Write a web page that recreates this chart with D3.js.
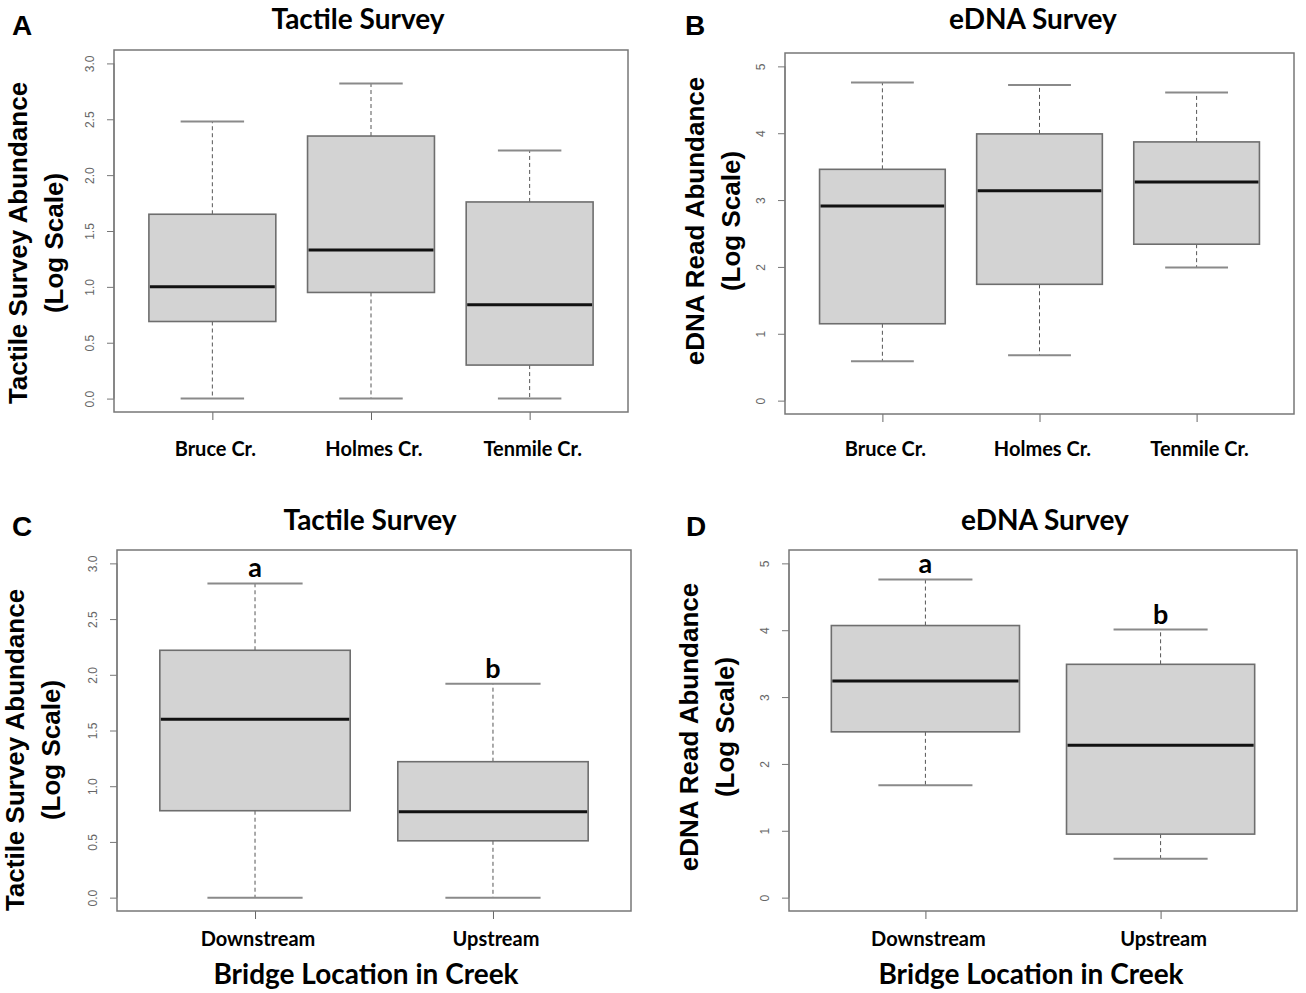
<!DOCTYPE html>
<html>
<head>
<meta charset="utf-8">
<script src="https://cdn.jsdelivr.net/npm/d3@7"></script>
<style>
  body { margin: 0; background: #fff; }
  svg { display: block; }
</style>
</head>
<body>
<div id="chart"></div>
<script>

// groups
var creeks = ['Bruce Cr.', 'Holmes Cr.', 'Tenmile Cr.'];
var locations = ['Downstream', 'Upstream'];

// five number summaries: [min, q1, median, q3, max]
var tactile_creek = [
	[0.00, 0.69, 1.00, 1.65, 2.48],
	[0.00, 0.95, 1.33, 2.35, 2.82],
	[0.00, 0.30, 0.84, 1.76, 2.22]
];
var edna_creek = [
	[0.59, 1.15, 2.91, 3.46, 4.76],
	[0.68, 1.74, 3.14, 3.99, 4.72],
	[1.99, 2.34, 3.27, 3.87, 4.61]
];
var tactile_location = [
	[0.00, 0.78, 1.60, 2.22, 2.82],
	[0.00, 0.51, 0.77, 1.22, 1.92]
];
var edna_location = [
	[1.68, 2.48, 3.24, 4.07, 4.76],
	[0.58, 0.95, 2.28, 3.49, 4.01]
];
var location_letters = ['a', 'b'];

// tick labels
var tactile_ticks = [0, 0.5, 1.0, 1.5, 2.0, 2.5, 3.0];
var edna_ticks = [0, 1, 2, 3, 4, 5];

var svg = d3.select('#chart').append('svg')
	.attr('width', 1306)
	.attr('height', 993);

// panel frames (layout only)
var panels = [
	{id: 'A', title: 'Tactile Survey', stats: tactile_creek, groups: creeks, ticks: tactile_ticks, fmt: d3.format('.1f'),
	 ylim: [0, 3], ylab: 'Tactile Survey Abundance', x0: 114, x1: 628, y0: 50, y1: 412, grpY: 44,
	 letterX: 12, titleX: 358, titleY: 29, labX: 27, labY: 243},
	{id: 'B', title: 'eDNA Survey', stats: edna_creek, groups: creeks, ticks: edna_ticks, fmt: d3.format('d'),
	 ylim: [0, 5], ylab: 'eDNA Read Abundance', x0: 785, x1: 1294, y0: 53, y1: 414, grpY: 42,
	 letterX: 685, titleX: 1033, titleY: 29, labX: 704, labY: 221},
	{id: 'C', title: 'Tactile Survey', stats: tactile_location, groups: locations, ticks: tactile_ticks, fmt: d3.format('.1f'),
	 ylim: [0, 3], ylab: 'Tactile Survey Abundance', x0: 117, x1: 631, y0: 550, y1: 911, grpY: 35,
	 letterX: 12, titleX: 370, titleY: 530, labX: 24, labY: 750, letters: location_letters, xtitle: 'Bridge Location in Creek', xtitleX: 366},
	{id: 'D', title: 'eDNA Survey', stats: edna_location, groups: locations, ticks: edna_ticks, fmt: d3.format('d'),
	 ylim: [0, 5], ylab: 'eDNA Read Abundance', x0: 789, x1: 1297, y0: 550, y1: 911, grpY: 35,
	 letterX: 686, titleX: 1045, titleY: 530, labX: 698, labY: 727, letters: location_letters, xtitle: 'Bridge Location in Creek', xtitleX: 1031}
];

var calibri = 'Lato, "Open Sans", sans-serif';
var arial = '"Liberation Sans", Arial, sans-serif';

function draw_panel(p) {
	var n = p.groups.length;
	// R style 4% padding
	var x = d3.scaleLinear()
		.domain([0.5 - 0.04 * n, n + 0.5 + 0.04 * n])
		.range([p.x0, p.x1]);
	var r = p.ylim[1] - p.ylim[0];
	var y = d3.scaleLinear()
		.domain([p.ylim[0] - 0.04 * r, p.ylim[1] + 0.04 * r])
		.range([p.y1, p.y0]);

	var g = svg.append('g').attr('class', 'panel');

	// panel letter + title
	g.append('text')
		.attr('x', p.letterX).attr('y', p.titleY + 6)
		.attr('font-family', arial).attr('font-weight', 'bold').attr('font-size', 28)
		.text(p.id);
	g.append('text')
		.attr('x', p.titleX).attr('y', p.titleY)
		.attr('text-anchor', 'middle')
		.attr('font-family', calibri).attr('font-weight', 'bold').attr('font-size', 28)
		.text(p.title);

	// y axis (R puts rotated labels along the axis)
	var yAxis = d3.axisLeft(y)
		.tickValues(p.ticks)
		.tickFormat(p.fmt)
		.tickSizeOuter(0)
		.tickSizeInner(7)
		.tickPadding(6);
	var ya = g.append('g')
		.attr('transform', 'translate(' + p.x0 + ',0)')
		.call(yAxis);
	ya.select('.domain')
		.attr('d', 'M0,' + y(p.ticks[0]) + 'V' + y(p.ticks[p.ticks.length - 1]))
		.attr('stroke', '#777');
	ya.selectAll('.tick line').attr('stroke', '#777');
	ya.selectAll('.tick text')
		.attr('x', null).attr('dy', null)
		.attr('text-anchor', 'middle')
		.attr('transform', 'translate(-20,0) rotate(-90)')
		.attr('font-family', arial).attr('font-size', 12)
		.attr('fill', '#666');

	// x ticks
	var xa = g.append('g')
		.attr('transform', 'translate(0,' + p.y1 + ')')
		.call(d3.axisBottom(x).tickValues(d3.range(1, n + 1)).tickFormat('').tickSizeOuter(0).tickSizeInner(8));
	xa.select('.domain').remove();
	xa.selectAll('.tick line').attr('stroke', '#666');

	// group labels
	g.selectAll('.grp')
		.data(p.groups)
		.enter().append('text')
		.attr('class', 'grp')
		.attr('x', function(d, i) { return x(i + 1) + 3; })
		.attr('y', p.y1 + p.grpY)
		.attr('text-anchor', 'middle')
		.attr('font-family', calibri).attr('font-weight', 'bold').attr('font-size', 20)
		.text(function(d) { return d; });

	// boxes
	var bw = x(1.4) - x(1);
	var cw = x(1.2) - x(1);
	var box = g.selectAll('.box')
		.data(p.stats)
		.enter().append('g')
		.attr('class', 'box');

	// whiskers
	box.append('line')
		.attr('x1', function(d, i) { return x(i + 1); })
		.attr('x2', function(d, i) { return x(i + 1); })
		.attr('y1', function(d) { return y(d[3]); })
		.attr('y2', function(d) { return y(d[4]); })
		.attr('stroke', '#555').attr('stroke-width', 1).attr('stroke-dasharray', '4,3');
	box.append('line')
		.attr('x1', function(d, i) { return x(i + 1); })
		.attr('x2', function(d, i) { return x(i + 1); })
		.attr('y1', function(d) { return y(d[1]); })
		.attr('y2', function(d) { return y(d[0]); })
		.attr('stroke', '#555').attr('stroke-width', 1).attr('stroke-dasharray', '4,3');

	// caps
	[0, 4].forEach(function(k) {
		box.append('line')
			.attr('x1', function(d, i) { return x(i + 1) - cw; })
			.attr('x2', function(d, i) { return x(i + 1) + cw; })
			.attr('y1', function(d) { return y(d[k]); })
			.attr('y2', function(d) { return y(d[k]); })
			.attr('stroke', '#8a8a8a').attr('stroke-width', 2);
	});

	box.append('rect')
		.attr('x', function(d, i) { return x(i + 1) - bw; })
		.attr('width', 2 * bw)
		.attr('y', function(d) { return y(d[3]); })
		.attr('height', function(d) { return y(d[1]) - y(d[3]); })
		.attr('fill', '#d3d3d3')
		.attr('stroke', '#6e6e6e').attr('stroke-width', 1.6);

	// median
	box.append('line')
		.attr('x1', function(d, i) { return x(i + 1) - bw + 1; })
		.attr('x2', function(d, i) { return x(i + 1) + bw - 1; })
		.attr('y1', function(d) { return y(d[2]); })
		.attr('y2', function(d) { return y(d[2]); })
		.attr('stroke', '#111').attr('stroke-width', 3);

	// significance letters
	if (p.letters) {
		box.append('text')
			.attr('x', function(d, i) { return x(i + 1); })
			.attr('y', function(d) { return y(d[4]) - 6; })
			.attr('text-anchor', 'middle')
			.attr('font-family', calibri).attr('font-weight', 'bold').attr('font-size', 27)
			.text(function(d, i) { return p.letters[i]; });
	}

	// frame
	g.append('rect')
		.attr('x', p.x0).attr('y', p.y0)
		.attr('width', p.x1 - p.x0).attr('height', p.y1 - p.y0)
		.attr('fill', 'none')
		.attr('stroke', '#777').attr('stroke-width', 1.5);

	// y label (two lines)
	var lab = g.append('text')
		.attr('transform', 'translate(' + p.labX + ',' + p.labY + ') rotate(-90)')
		.attr('text-anchor', 'middle')
		.attr('font-family', arial).attr('font-weight', 'bold').attr('font-size', 26);
	lab.append('tspan').attr('x', 0).attr('y', 0).text(p.ylab);
	lab.append('tspan').attr('x', 0).attr('y', 36).text('(Log Scale)');

	// x title
	if (p.xtitle) {
		g.append('text')
			.attr('x', p.xtitleX).attr('y', 984)
			.attr('text-anchor', 'middle')
			.attr('font-family', calibri).attr('font-weight', 'bold').attr('font-size', 28)
			.text(p.xtitle);
	}
}

panels.forEach(draw_panel);

</script>
</body>
</html>
